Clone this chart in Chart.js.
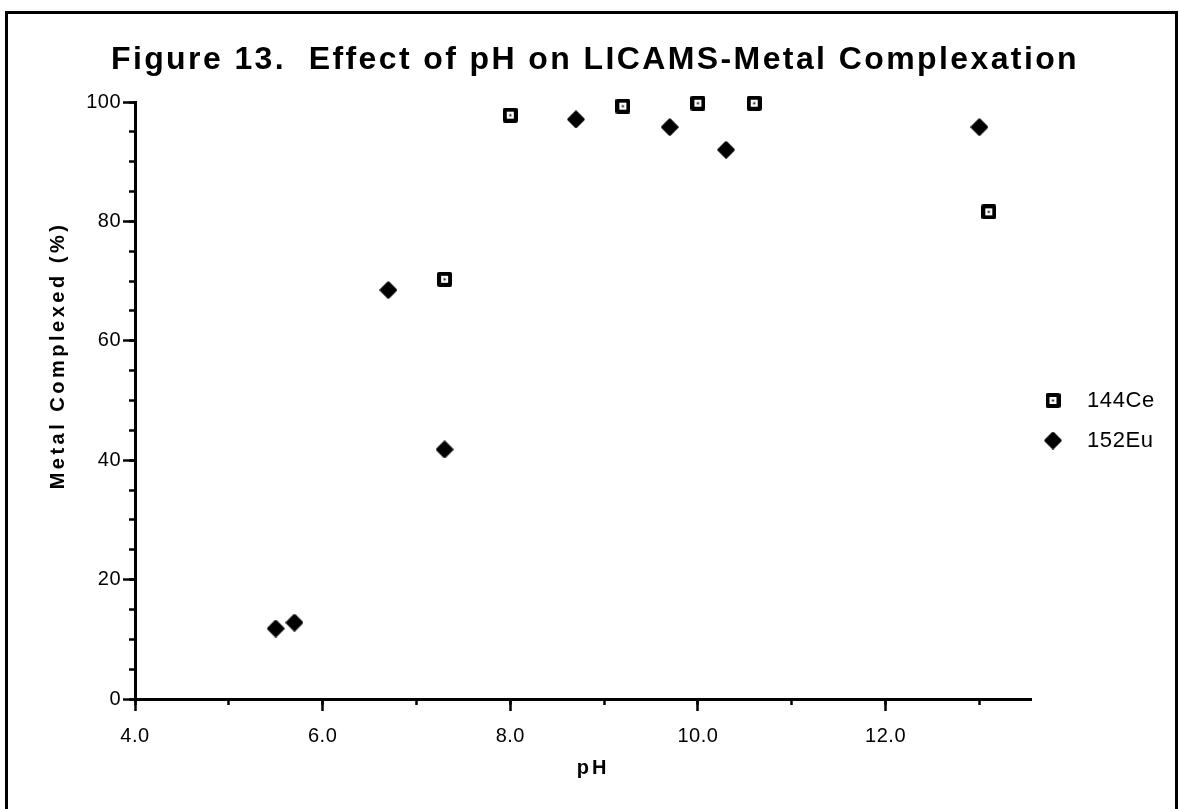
<!DOCTYPE html>
<html><head><meta charset="utf-8">
<script src="https://cdn.jsdelivr.net/npm/chart.js@4.4.1/dist/chart.umd.min.js"></script>
<style>
html,body{margin:0;padding:0;background:#fff;overflow:hidden;}
#wrap{position:relative;width:1180px;height:809px;}
#frame{position:absolute;left:5px;top:11px;right:2px;bottom:-10px;border:3px solid #000;border-bottom:none;}
canvas{position:absolute;left:0;top:0;}
</style></head><body>
<div id="wrap"><div id="frame"></div><canvas id="c" width="1180" height="809"></canvas></div>
<script>
// ---- data ----
const titleText = 'Figure 13.  Effect of pH on LICAMS-Metal Complexation';
const xAxisTitle = 'pH';
const yAxisTitle = 'Metal Complexed (%)';
const seriesNames = ['144Ce', '152Eu'];
const ceX = [7.3, 8.0, 9.2, 10.0, 10.6, 13.1];
const ceY = [70.3, 97.8, 99.3, 99.8, 99.8, 81.6];
const euX = [5.5, 5.7, 6.7, 7.3, 8.7, 9.7, 10.3, 13.0];
const euY = [11.8, 12.8, 68.5, 41.8, 97.1, 95.8, 92.0, 95.8];
const xMin = 4, xMax = 13.55, xMajor = 2, xMinor = 1;
const yMin = 0, yMax = 100, yMajor = 20, yMinor = 5;

const FAM = "'Liberation Sans', Arial, Helvetica, sans-serif";

function makeSquare(){
  const c = document.createElement('canvas'); c.width = 15; c.height = 15;
  const g = c.getContext('2d');
  g.fillStyle = '#000';
  g.beginPath(); g.roundRect ? g.roundRect(0,0,15,15,2) : g.rect(0,0,15,15); g.fill();
  g.fillStyle = '#fff'; g.fillRect(4,4,7,7);
  g.fillStyle = '#000'; g.fillRect(6.5,6.5,2,2);
  return c;
}
function makeDiamond(){
  const c = document.createElement('canvas'); c.width = 18; c.height = 18;
  const g = c.getContext('2d');
  g.fillStyle = '#000'; g.strokeStyle = '#000'; g.lineWidth = 3; g.lineJoin = 'round';
  g.beginPath(); g.moveTo(9,1.8); g.lineTo(16.2,9); g.lineTo(9,16.2); g.lineTo(1.8,9); g.closePath();
  g.fill(); g.stroke();
  return c;
}
const sqImg = makeSquare();
const diaImg = makeDiamond();

function toPts(xs, ys){ return xs.map((x,i)=>({x:x, y:ys[i]})); }

function wrap(obj, name, fn){
  if (!obj || obj['__w_'+name]) return;
  const orig = obj[name];
  obj[name] = function(...a){
    const ctx = this.ctx; ctx.save(); fn(ctx); const r = orig.apply(this, a); ctx.restore(); return r;
  };
  obj['__w_'+name] = true;
}

const stylePlugin = {
  id: 'stylePlugin',
  afterInit(chart){
    const lg = chart.legend;
    if (lg){
      const of = lg.fit;
      lg.fit = function(){ of.apply(this, arguments); this.width = 149; };
    }
  },
  beforeLayout(chart){ chart.ctx.letterSpacing = '0.5px'; },
  beforeDraw(chart){
    chart.ctx.letterSpacing = '0.5px';
    wrap(chart.titleBlock, 'draw', ctx => { ctx.letterSpacing = '2.4px'; });
    wrap(chart.legend, 'draw', ctx => { ctx.letterSpacing = '0.6px'; ctx.translate(-19, 20); });
    wrap(chart.scales.y, 'drawTitle', ctx => { ctx.letterSpacing = '3.5px'; ctx.translate(0, -45); });
    wrap(chart.scales.x, 'drawTitle', ctx => { ctx.letterSpacing = '3px'; ctx.translate(10, 0); });
  }
};

const tickFont = {size: 20, family: FAM};

new Chart(document.getElementById('c'), {
  type: 'scatter',
  data: {
    datasets: [
      {label: seriesNames[0], data: toPts(ceX, ceY), pointStyle: sqImg, pointRadius: 7, backgroundColor:'#000', borderColor:'#000', clip: false},
      {label: seriesNames[1], data: toPts(euX, euY), pointStyle: diaImg, pointRadius: 8, backgroundColor:'#000', borderColor:'#000', clip: false}
    ]
  },
  options: {
    responsive: false,
    animation: false,
    devicePixelRatio: 1,
    layout: {padding: {left: 10, right: 0, top: 0, bottom: 25}},
    plugins: {
      title: {display: true, text: titleText, color: '#000', font: {size: 32, weight: 'bold', family: FAM}, padding: {top: 41, bottom: 22.6}},
      legend: {
        display: true, position: 'right', align: 'center', fullSize: false,
        labels: {usePointStyle: true, pointStyleWidth: 46, color: '#000', font: {size: 22, family: FAM}, padding: 18}
      },
      tooltip: {enabled: false}
    },
    scales: {
      x: {
        type: 'linear', position: 'bottom', min: xMin, max: xMax, weight: 1,
        ticks: {stepSize: xMajor, includeBounds: false, callback: v => v.toFixed(1), color: '#000', font: tickFont, padding: 13, maxRotation: 0, autoSkip: false},
        grid: {drawOnChartArea: false, drawTicks: true, tickLength: 12, tickWidth: 2.5, tickColor: '#000'},
        border: {display: true, color: '#000', width: 3},
        title: {display: true, text: xAxisTitle, color: '#000', font: {size: 20, weight: 'bold', family: FAM}, padding: {top: 0, bottom: 4}},
        afterFit(s){ s.height = 85; }
      },
      x2: {
        type: 'linear', position: 'bottom', min: xMin, max: xMax, weight: 0,
        ticks: {stepSize: xMinor, includeBounds: false, display: false},
        grid: {drawOnChartArea: false, drawTicks: true, tickLength: 6, tickWidth: 2.5, tickColor: '#000'},
        border: {display: false},
        afterFit(s){ s.height = 0; }
      },
      y: {
        type: 'linear', position: 'left', min: yMin, max: yMax, weight: 1,
        ticks: {stepSize: yMajor, includeBounds: false, color: '#000', font: tickFont, padding: 2},
        grid: {drawOnChartArea: false, drawTicks: true, tickLength: 12, tickWidth: 2.5, tickColor: '#000'},
        border: {display: true, color: '#000', width: 3},
        title: {display: true, text: yAxisTitle, color: '#000', font: {size: 20, weight: 'bold', family: FAM}, padding: {top: 36, bottom: 0}},
        afterFit(s){ s.width = 125; }
      },
      y2: {
        type: 'linear', position: 'left', min: yMin, max: yMax, weight: 0,
        ticks: {stepSize: yMinor, includeBounds: false, display: false},
        grid: {drawOnChartArea: false, drawTicks: true, tickLength: 6, tickWidth: 2.5, tickColor: '#000'},
        border: {display: false},
        afterFit(s){ s.width = 0; }
      }
    }
  },
  plugins: [stylePlugin]
});
</script>
</body></html>
